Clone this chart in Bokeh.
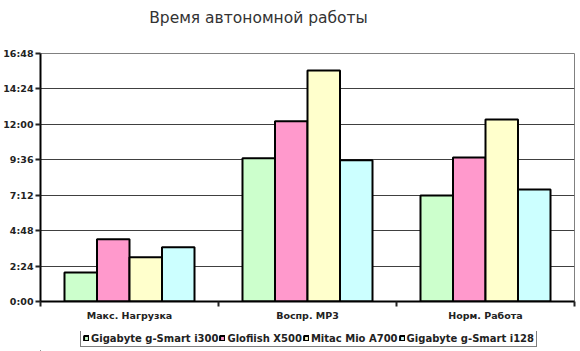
from bokeh.plotting import figure
from bokeh.layouts import column
from bokeh.models import ColumnDataSource, FixedTicker, Legend, LegendItem, Label
from bokeh.transform import dodge
from bokeh.embed import file_html
from bokeh.resources import INLINE

# ---- data (minutes of runtime) ----
title_text = "Время автономной работы"
categories = ["Макс. Нагрузка", "Воспр. MP3", "Норм. Работа"]
series_names = ["Gigabyte g-Smart i300", "Glofiish X500", "Mitac Mio A700", "Gigabyte g-Smart i128"]
gigabyte_i300 = [118, 582, 431]
glofiish_x500 = [253, 733, 585]
mitac_a700 = [180, 939, 740]
gigabyte_i128 = [221, 574, 455]
colors = ["#CCFFCC", "#FF99CC", "#FFFFCC", "#CCFFFF"]
y_ticks = [0, 144, 288, 432, 576, 720, 864, 1008]
y_tick_labels = ["0:00", "2:24", "4:48", "7:12", "9:36", "12:00", "14:24", "16:48"]

x_centers = [i + 0.5 for i in range(len(categories))]
keys = ["s0", "s1", "s2", "s3"]
src = ColumnDataSource(dict(x=x_centers, s0=gigabyte_i300, s1=glofiish_x500,
                            s2=mitac_a700, s3=gigabyte_i128))

W = 580
BL, BR = 40, 6          # left / right borders shared by all strips
FW = W - BL - BR        # frame width in px
label_font = "DejaVu Sans"
text_color = "#222222"

# ---------- title strip ----------
pt = figure(width=W, height=40, x_range=(0, FW), y_range=(0, 40),
            x_axis_type=None, y_axis_type=None, output_backend="svg", toolbar_location=None,
            min_border_left=BL, min_border_right=BR, min_border_top=0, min_border_bottom=0)
pt.outline_line_color = None
pt.grid.visible = False
pt.add_layout(Label(x=258 - BL, y=23, text=title_text, text_align="center", text_baseline="middle",
                    text_font=label_font, text_font_size="15.5px", text_color="#333333"))

# ---------- main chart ----------
p = figure(width=W, height=291, x_range=(0, len(categories)), y_range=(0, y_ticks[-1]),
           output_backend="svg", toolbar_location=None,
           min_border_left=BL, min_border_right=BR, min_border_top=13, min_border_bottom=30,
           background_fill_color="white", border_fill_color="white")

bw = 0.1826
offsets = [-1.5 * bw, -0.5 * bw, 0.5 * bw, 1.5 * bw]
for k, off, c in zip(keys, offsets, colors):
    p.vbar(x=dodge("x", off), top=k, width=bw, source=src,
           fill_color=c, line_color="black", line_width=2)

# y axis
p.yaxis.ticker = FixedTicker(ticks=y_ticks)
p.yaxis.major_label_overrides = {t: l for t, l in zip(y_ticks, y_tick_labels)}
p.yaxis.axis_line_color = "black"
p.yaxis.axis_line_width = 2
p.yaxis.major_tick_out = 5
p.yaxis.major_tick_in = 0
p.yaxis.major_tick_line_width = 2
p.yaxis.major_tick_line_color = text_color
p.yaxis.minor_tick_line_color = None
p.yaxis.major_label_standoff = 2
p.yaxis.major_label_text_font = label_font
p.yaxis.major_label_text_font_size = "9.5px"
p.yaxis.major_label_text_font_style = "bold"
p.yaxis.major_label_text_color = text_color

# x axis: labels at centres, ticks at boundaries
p.xaxis.ticker = FixedTicker(ticks=x_centers, minor_ticks=list(range(len(categories) + 1)))
p.xaxis.major_label_overrides = {x: c for x, c in zip(x_centers, categories)}
p.xaxis.axis_line_color = "black"
p.xaxis.axis_line_width = 2
p.xaxis.major_tick_line_color = None
p.xaxis.minor_tick_out = 5
p.xaxis.minor_tick_in = 0
p.xaxis.minor_tick_line_color = text_color
p.xaxis.minor_tick_line_width = 2
p.xaxis.major_label_standoff = 2
p.xaxis.major_label_text_font = label_font
p.xaxis.major_label_text_font_size = "9.5px"
p.xaxis.major_label_text_font_style = "bold"
p.xaxis.major_label_text_color = text_color

p.xgrid.grid_line_color = None
p.ygrid.grid_line_color = "#404040"
p.ygrid.grid_line_width = 1
p.outline_line_color = "#808080"
p.outline_line_width = 1

# ---------- legend strip ----------
pl = figure(width=W, height=20, x_range=(0, 1), y_range=(0, 1),
            x_axis_type=None, y_axis_type=None, output_backend="svg", toolbar_location=None,
            min_border_left=BL, min_border_right=BR, min_border_top=0, min_border_bottom=0)
pl.outline_line_color = None
pl.grid.visible = False
# off-screen proxy bars that only supply the legend swatches
proxy = ColumnDataSource(dict(x=[-5.0], top=[0.0]))
items = []
for n, c in zip(series_names, colors):
    r = pl.vbar(x="x", top="top", width=0.1, source=proxy,
                fill_color=c, line_color="black", line_width=2)
    items.append(LegendItem(label=n, renderers=[r]))
legend = Legend(items=items, orientation="horizontal", location=(80 - BL, 4))
legend.border_line_color = "black"
legend.border_line_width = 1
legend.background_fill_color = "white"
legend.background_fill_alpha = 1
legend.padding = 2
legend.margin = 0
legend.spacing = 1
legend.glyph_width = 6
legend.glyph_height = 6
legend.label_standoff = 2
legend.label_height = 12
legend.label_text_font = label_font
legend.label_text_font_size = "10px"
legend.label_text_font_style = "bold"
legend.label_text_color = text_color
legend.label_text_baseline = "middle"
pl.add_layout(legend)

layout = column(pt, p, pl, spacing=0)
open("out.html", "w").write(file_html(layout, INLINE))
